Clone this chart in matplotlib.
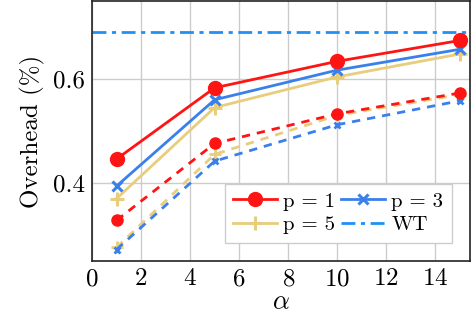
import matplotlib
matplotlib.use("Agg")
import matplotlib.pyplot as plt

plt.rcParams['font.family'] = 'serif'
plt.rcParams['font.serif'] = ['cmr10', 'DejaVu Serif']
plt.rcParams['mathtext.fontset'] = 'cm'
plt.rcParams['axes.formatter.use_mathtext'] = True

alpha = [1, 5, 10, 15]

# solid lines
p1 = [0.446, 0.583, 0.634, 0.674]
p3 = [0.394, 0.560, 0.617, 0.657]
p5 = [0.370, 0.545, 0.604, 0.648]
# dashed lines
p1_d = [0.328, 0.476, 0.533, 0.573]
p3_d = [0.272, 0.442, 0.512, 0.558]
p5_d = [0.276, 0.455, 0.530, 0.570]
wt = 0.690

red = '#ff1414'
blue = '#3a80ea'
yellow = '#e8cd7c'
wt_color = '#2090f5'

fig, ax = plt.subplots(figsize=(4.72, 3.21), dpi=100)

h1, = ax.plot(alpha, p1, color=red, lw=2, marker='o', ms=10, label='p = 1', zorder=5)
h3, = ax.plot(alpha, p3, color=blue, lw=2, marker='x', ms=7, mew=2.2, label='p = 3', zorder=4)
h5, = ax.plot(alpha, p5, color=yellow, lw=2, marker='+', ms=10, mew=2.2, label='p = 5', zorder=3)
hw = ax.axhline(wt, color=wt_color, lw=2, ls=(0, (5, 2, 1.5, 2)), label='WT')

ax.plot(alpha, p1_d, color=red, lw=2, ls=(0, (3, 2.5)), marker='o', ms=8, zorder=5)
ax.plot(alpha, p5_d, color=yellow, lw=2, ls=(0, (3, 2.5)), marker='+', ms=8, mew=2, zorder=3)
ax.plot(alpha, p3_d, color=blue, lw=2, ls=(0, (3, 2.5)), marker='x', ms=5, mew=2, zorder=4)

ax.set_xlim(0, 15.4)
ax.set_ylim(0.25, 0.75)
ax.set_xticks([0, 2, 4, 6, 8, 10, 12, 14])
ax.set_yticks([0.4, 0.6])
ax.set_yticklabels(['0.4', '0.6'])
ax.tick_params(labelsize=18, length=0, pad=5)
ax.grid(True, color='#cccccc', lw=1)
ax.set_axisbelow(True)
for s in ax.spines.values():
    s.set_color('#222222')
    s.set_linewidth(1.2)

ax.set_xlabel(r'$\alpha$', fontsize=19, labelpad=0)
ax.set_ylabel('Overhead (%)', fontsize=18, labelpad=6)

# row-wise order: p=1, p=3 / p=5, WT
ax.legend([h1, h5, h3, hw], ['p = 1', 'p = 5', 'p = 3', 'WT'],
          ncol=2, loc='lower right', fontsize=15, fancybox=False,
          edgecolor='#cccccc', framealpha=1, handlelength=2.1,
          columnspacing=0.3, handletextpad=0.3, borderpad=0.4,
          labelspacing=0.25, bbox_to_anchor=(0.98, 0.03))

fig.subplots_adjust(left=0.195, right=0.995, top=0.997, bottom=0.187)
fig.savefig('out.png', dpi=100)
